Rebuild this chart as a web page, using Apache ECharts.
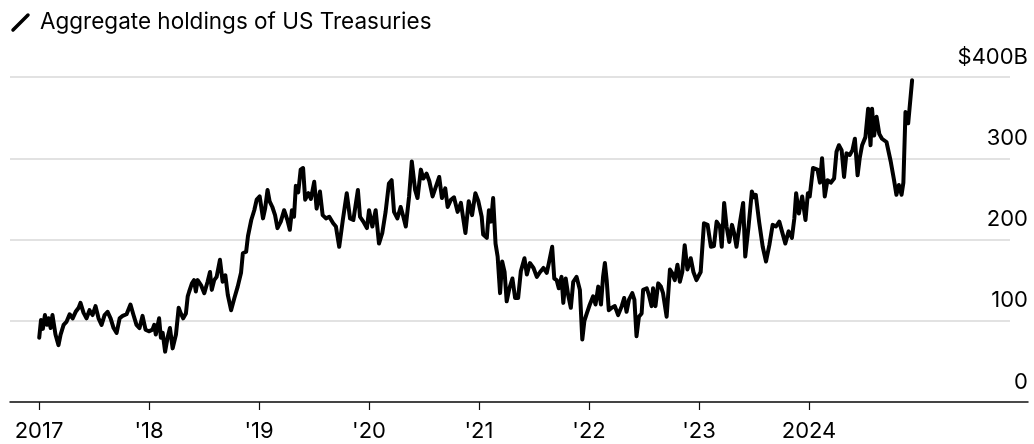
<!DOCTYPE html>
<html>
<head>
<meta charset="utf-8">
<script src="https://cdn.jsdelivr.net/npm/echarts@6/dist/echarts.min.js"></script>
<style>
  html, body { margin: 0; padding: 0; background: #fff; }
  #chart { width: 1034px; height: 444px; }
</style>
</head>
<body>
<div id="chart"></div>
<script>
// weekly aggregate holdings, $B
const dates = [
  '2017-01-02','2017-01-08','2017-01-14','2017-01-21','2017-01-28','2017-02-02','2017-02-09','2017-02-15','2017-02-25','2017-03-07',
  '2017-03-14','2017-03-24','2017-04-03','2017-04-13','2017-04-23','2017-05-03','2017-05-13','2017-05-19','2017-05-29','2017-06-08',
  '2017-06-18','2017-06-28','2017-07-08','2017-07-18','2017-07-28','2017-08-07','2017-08-17','2017-08-27','2017-09-06','2017-09-16',
  '2017-09-26','2017-10-06','2017-10-19','2017-11-01','2017-11-11','2017-11-21','2017-12-01','2017-12-11','2017-12-21',
  '2018-01-01','2018-01-13','2018-01-19','2018-01-24','2018-02-04','2018-02-10','2018-02-16','2018-02-24','2018-03-04','2018-03-12',
  '2018-03-21','2018-04-01','2018-04-10','2018-04-17','2018-04-25','2018-05-04','2018-05-10','2018-05-15','2018-05-24','2018-05-31',
  '2018-06-06','2018-06-12','2018-06-23','2018-07-04','2018-07-15','2018-07-23','2018-07-29','2018-08-06','2018-08-14','2018-08-25',
  '2018-09-03','2018-09-12','2018-09-20','2018-10-01','2018-10-12','2018-10-23','2018-11-03','2018-11-09','2018-11-20','2018-11-26',
  '2018-12-07','2018-12-17','2018-12-25',
  '2019-01-04','2019-01-15','2019-01-22','2019-01-30','2019-02-06','2019-02-15','2019-02-24','2019-03-04','2019-03-15','2019-03-26',
  '2019-04-06','2019-04-14','2019-04-21','2019-04-28','2019-05-04','2019-05-12','2019-05-20','2019-05-28','2019-06-04','2019-06-15',
  '2019-06-23','2019-07-04','2019-07-12','2019-07-23','2019-08-01','2019-08-12','2019-08-23','2019-09-05','2019-09-14','2019-09-25',
  '2019-10-07','2019-10-20','2019-10-31','2019-11-11','2019-11-26','2019-12-03','2019-12-14','2019-12-26',
  '2020-01-02','2020-01-13','2020-01-24','2020-02-04','2020-02-15','2020-02-26','2020-03-08','2020-03-17','2020-03-25','2020-04-05',
  '2020-04-16','2020-04-25','2020-05-03','2020-05-14','2020-05-23','2020-06-03','2020-06-11','2020-06-22','2020-06-30','2020-07-11',
  '2020-07-20','2020-07-31','2020-08-11','2020-08-22','2020-08-31','2020-09-11','2020-09-19','2020-09-30','2020-10-10','2020-10-22',
  '2020-11-02','2020-11-17','2020-11-28','2020-12-09','2020-12-20','2020-12-30',
  '2021-01-03','2021-01-10','2021-01-15','2021-01-27','2021-02-03','2021-02-10','2021-02-17','2021-02-25','2021-03-04','2021-03-12',
  '2021-03-19','2021-03-27','2021-04-03','2021-04-12','2021-04-22','2021-05-01','2021-05-11','2021-05-20','2021-06-01','2021-06-09',
  '2021-06-19','2021-07-01','2021-07-12','2021-07-23','2021-08-03','2021-08-14','2021-08-21','2021-09-01','2021-09-08','2021-09-16',
  '2021-09-23','2021-10-02','2021-10-08','2021-10-16','2021-10-24','2021-11-02','2021-11-10','2021-11-21','2021-12-02','2021-12-10',
  '2021-12-17','2021-12-25',
  '2022-01-04','2022-01-15','2022-01-23','2022-02-01','2022-02-10','2022-02-17','2022-02-23','2022-03-01','2022-03-08','2022-03-18',
  '2022-03-28','2022-04-08','2022-04-20','2022-04-28','2022-05-06','2022-05-14','2022-05-25','2022-06-01','2022-06-08','2022-06-16',
  '2022-06-25','2022-06-30','2022-07-12','2022-07-19','2022-07-28','2022-08-02','2022-08-10','2022-08-19','2022-08-28','2022-09-04',
  '2022-09-16','2022-09-27','2022-10-04','2022-10-13','2022-10-22','2022-10-30','2022-11-07','2022-11-15','2022-11-24','2022-12-05',
  '2022-12-14','2022-12-24',
  '2023-01-07','2023-01-18','2023-01-30','2023-02-10','2023-02-20','2023-03-01','2023-03-12','2023-03-18','2023-03-26','2023-04-03',
  '2023-04-12','2023-04-21','2023-04-28','2023-05-06','2023-05-17','2023-05-28','2023-06-04','2023-06-15','2023-06-26','2023-07-03',
  '2023-07-09','2023-07-20','2023-08-01','2023-08-12','2023-08-23','2023-09-03','2023-09-14','2023-09-25','2023-10-04','2023-10-15',
  '2023-10-26','2023-11-06','2023-11-14','2023-11-20','2023-11-29','2023-12-10','2023-12-21','2023-12-29',
  '2024-01-04','2024-01-15','2024-01-30','2024-02-07','2024-02-14','2024-02-23','2024-03-03','2024-03-14','2024-03-25','2024-04-02',
  '2024-04-10','2024-04-19','2024-04-27','2024-05-05','2024-05-16','2024-05-25','2024-06-02','2024-06-11','2024-06-18','2024-06-26',
  '2024-07-07','2024-07-16','2024-07-24','2024-07-29','2024-08-05','2024-08-13','2024-08-22','2024-08-31','2024-09-15','2024-09-29',
  '2024-10-10','2024-10-18','2024-10-26','2024-11-04','2024-11-10','2024-11-17','2024-11-26','2024-12-09'
]
const holdings = [
  79,101,90,107,95,103,91,107,83,70,
  83,95,99,108,103,111,116,122,110,103,
  113,107,118,103,95,107,111,103,91,85,
  103,106,108,120,107,95,91,106,89,
  87,89,95,83,103,79,85,62,79,91,
  66,83,116,109,103,109,130,136,146,150,
  136,150,144,134,148,160,138,150,154,175,
  148,156,132,113,128,142,159,183,185,204,
  224,236,249,
  253,226,238,261,247,240,230,214,222,236,
  224,212,236,228,266,258,286,288,249,257,
  250,271,238,259,230,226,228,220,216,191,
  224,257,226,224,261,228,222,214,
  236,216,236,195,208,234,269,273,234,226,
  240,228,216,253,296,261,251,286,275,281,
  272,253,265,277,251,263,240,249,252,234,
  245,208,247,230,257,247,
  240,228,206,202,236,222,251,195,179,134,
  173,160,124,140,152,128,128,161,177,157,
  171,165,154,160,165,159,171,191,152,150,
  140,154,122,152,132,116,148,154,138,77,
  100,109,
  120,130,120,142,120,154,171,150,113,116,
  118,107,118,128,111,126,134,126,81,105,
  109,138,140,132,118,140,118,146,142,134,
  105,163,159,150,169,148,160,193,163,177,
  160,150,
  160,220,218,191,192,222,216,191,245,216,
  197,218,208,191,220,245,179,216,259,252,
  255,222,191,173,193,218,216,222,210,195,
  210,202,226,257,232,253,224,257,
  253,288,286,270,300,253,273,270,275,308,
  316,310,277,306,304,310,324,279,300,316,
  326,361,316,361,328,351,330,324,320,296,
  273,255,267,255,270,357,343,396
]
const tickYears = [2017, 2018, 2019, 2020, 2021, 2022, 2023, 2024]

const FONT = 'Inter, "Liberation Sans", Arial, sans-serif'
// data axis (time) and label axis (decimal years) cover the same span
const xMin = '2016-09-27'
const xMaxGrid = '2025-10-30'
const yearMin = 2016.7364
const yearMax = 2025.9909

const chart = echarts.init(document.getElementById('chart'), null, { renderer: 'canvas' })

const option = {
  animation: false,
  backgroundColor: '#fff',
  title: {
    text: 'Aggregate holdings of US Treasuries',
    left: 40,
    top: 11,
    padding: 0,
    textStyle: { fontFamily: FONT, fontSize: 22.5, fontWeight: 'normal', color: '#000' }
  },
  graphic: [
    {
      type: 'line',
      shape: { x1: 13, y1: 30, x2: 28, y2: 15 },
      style: { stroke: '#000', lineWidth: 3.5, lineCap: 'round' }
    }
  ],
  grid: [
    { left: 10, right: 24, top: 77, bottom: 42 },
    { left: 10, right: 6, top: 77, bottom: 42 }
  ],
  xAxis: [
    { type: 'time', gridIndex: 0, min: xMin, max: xMaxGrid, show: false },
    {
      type: 'value',
      gridIndex: 1,
      min: yearMin,
      max: yearMax,
      axisLine: { show: true, lineStyle: { color: '#111', width: 1.5 } },
      axisTick: { show: true, customValues: tickYears, length: 8, lineStyle: { color: '#111', width: 1.2 } },
      splitLine: { show: false },
      axisLabel: {
        customValues: tickYears,
        margin: 18,
        color: '#000',
        fontFamily: FONT,
        fontSize: 22,
        formatter: (v) => {
          const y = Math.round(v)
          if (y === 2017 || y === 2024) return String(y)
          return "'" + String(y).slice(2)
        }
      }
    }
  ],
  yAxis: [
    {
      type: 'value',
      gridIndex: 0,
      min: 0,
      max: 400,
      interval: 100,
      axisLine: { show: false },
      axisTick: { show: false },
      axisLabel: { show: false },
      splitLine: { lineStyle: { color: '#d8d8d8', width: 1.5 } }
    },
    {
      type: 'value',
      gridIndex: 1,
      position: 'right',
      min: 0,
      max: 400,
      interval: 100,
      axisLine: { show: false },
      axisTick: { show: false },
      splitLine: { show: false },
      axisLabel: {
        inside: true,
        margin: 0,
        verticalAlign: 'bottom',
        padding: [0, 0, 9, 0],
        color: '#000',
        fontFamily: FONT,
        fontSize: 22,
        formatter: (v) => (v === 400 ? '$400B' : String(v))
      }
    }
  ],
  series: [
    {
      name: 'Holdings',
      type: 'line',
      xAxisIndex: 0,
      yAxisIndex: 0,
      data: dates.map((d, i) => [d, holdings[i]]),
      showSymbol: false,
      lineStyle: { color: '#000', width: 4, join: 'round', cap: 'round' },
      emphasis: { disabled: true }
    }
  ]
}

chart.setOption(option)
</script>
</body>
</html>
